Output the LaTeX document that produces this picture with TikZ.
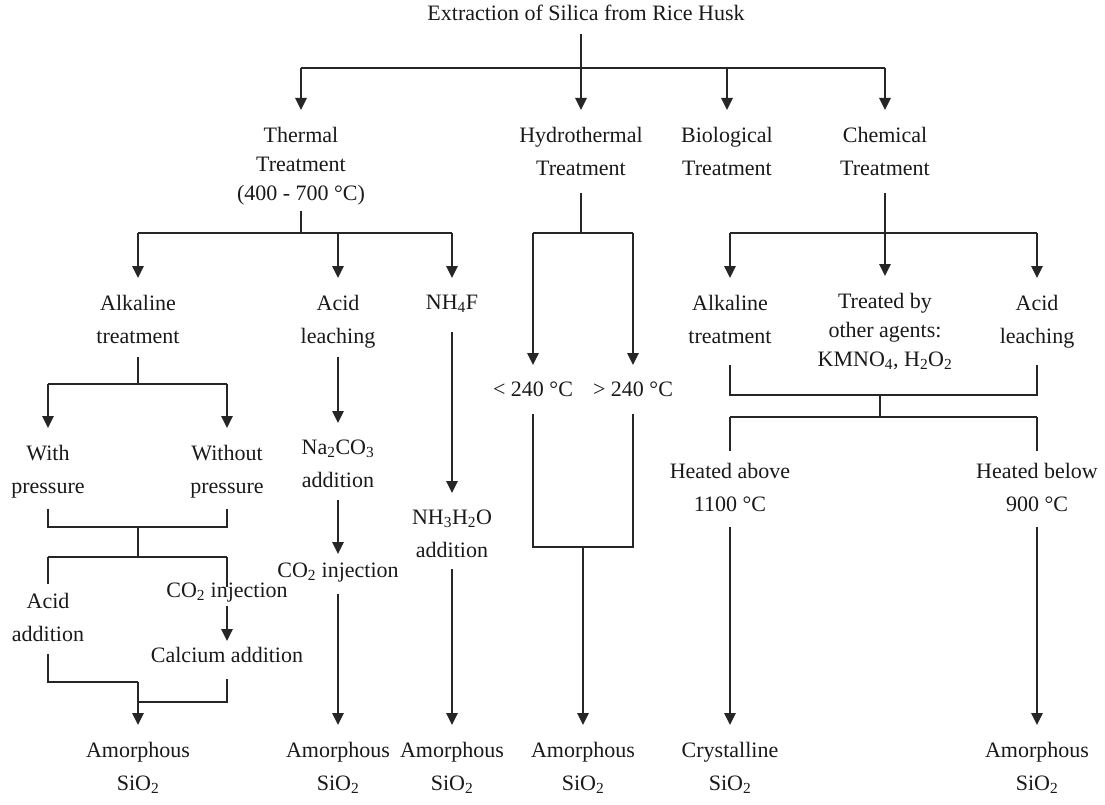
\documentclass[tikz,border=0pt]{standalone}
\usepackage{fontspec}
\setmainfont{Liberation Serif}
\usetikzlibrary{arrows.meta,calc}
\begin{document}
\begin{tikzpicture}[x=1pt,y=-1pt,line width=2.6pt,
  lab/.style={align=center,inner sep=0pt,anchor=north,font=\fontsize{22}{33}\selectfont,text=black!90},
  tight/.style={font=\fontsize{22}{29}\selectfont},
  ln/.style={draw=black!85},
  arr/.style={ln,-{Triangle[length=12pt,width=11pt]},shorten >=16pt},
  gapout/.style={shorten <=#1}, gapout/.default=11pt,
  gapin/.style={shorten >=#1}, gapin/.default=16pt]
\useasboundingbox (0,0) rectangle (1105,805);
% nodes
\node[lab] (title) at (586,4) {Extraction of Silica from Rice Husk};
\node[lab,tight] (thermal) at (301,126) {Thermal\\Treatment\\(400 - 700 °C)};
\node[lab] (hydro) at (581,126) {Hydrothermal\\Treatment};
\node[lab] (bio) at (727,126) {Biological\\Treatment};
\node[lab] (chem) at (885,126) {Chemical\\Treatment};
\node[lab] (alk1) at (138,294) {Alkaline\\treatment};
\node[lab] (acid1) at (338,294) {Acid\\leaching};
\node[lab] (nh4f) at (452,294) {NH\textsubscript{4}F};
\node[lab] (withp) at (48,444) {With\\pressure};
\node[lab] (withoutp) at (227,444) {Without\\pressure};
\node[lab] (na) at (338,439) {Na\textsubscript{2}CO\textsubscript{3}\\addition};
\node[lab] (nh3) at (452,509) {NH\textsubscript{3}H\textsubscript{2}O\\addition};
\node[lab] (acidadd) at (48,592) {Acid\\addition};
\node[lab] (co2a) at (227,582) {CO\textsubscript{2} injection};
\node[lab] (calc) at (227,646) {Calcium addition};
\node[lab] (co2b) at (338,562) {CO\textsubscript{2} injection};
\node[lab] (lt) at (533,381) {< 240 °C};
\node[lab] (gt) at (633,381) {> 240 °C};
\node[lab] (alk2) at (730,294) {Alkaline\\treatment};
\node[lab,tight] (other) at (885,292) {Treated by\\other agents:\\KMNO\textsubscript{4}, H\textsubscript{2}O\textsubscript{2}};
\node[lab] (acid2) at (1037,294) {Acid\\leaching};
\node[lab] (above) at (730,462) {Heated above\\1100 °C};
\node[lab] (below) at (1037,462) {Heated below\\900 °C};
\node[lab] (am1) at (138,741) {Amorphous\\SiO\textsubscript{2}};
\node[lab] (am2) at (338,741) {Amorphous\\SiO\textsubscript{2}};
\node[lab] (am3) at (452,741) {Amorphous\\SiO\textsubscript{2}};
\node[lab] (am4) at (583,741) {Amorphous\\SiO\textsubscript{2}};
\node[lab] (cryst) at (730,741) {Crystalline\\SiO\textsubscript{2}};
\node[lab] (am5) at (1037,741) {Amorphous\\SiO\textsubscript{2}};
% junctions
\coordinate (tb) at (580,68);
\coordinate (thb) at (301,233);
\coordinate (hyb) at (581,233);
\coordinate (chb) at (885,233);
\coordinate (alb) at (138,384);
\coordinate (wm) at (138,527);
\coordinate (ws) at (138,557);
\coordinate (lm) at (138,682);
\coordinate (rm) at (138,702);
\coordinate (hm) at (583,547);
\coordinate (cm1) at (880,395);
\coordinate (cm2) at (880,417);
% top level
\draw[arr,gapout=12pt] (title.south -| hydro.north) -- (hydro.north);
\draw[ln] (thermal.north |- tb) -- (chem.north |- tb);
\foreach \n in {thermal,bio,chem} \draw[arr] (\n.north |- tb) -- (\n.north);
% thermal
\draw[ln,gapout=4pt] (thermal.south) -- (thb);
\draw[ln] (alk1.north |- thb) -- (nh4f.north |- thb);
\foreach \n in {alk1,acid1,nh4f} \draw[arr] (\n.north |- thb) -- (\n.north);
% alkaline branch
\draw[ln,gapout=12pt] (alk1.south) -- (alb);
\draw[ln] (withp.north |- alb) -- (withoutp.north |- alb);
\foreach \n in {withp,withoutp} \draw[arr] (\n.north |- alb) -- (\n.north);
\draw[ln,gapout=9pt,gapin=9pt] (withp.south) -- (withp.south |- wm) -- (withoutp.south |- wm) -- (withoutp.south);
\draw[ln] (wm) -- (ws);
\draw[ln] (acidadd.north |- ws) -- (co2a.north |- ws);
\draw[ln,gapin=8pt] (acidadd.north |- ws) -- (acidadd.north);
\draw[ln,gapin=-5pt] (co2a.north |- ws) -- (co2a.north);
\draw[arr,gapout=2pt,gapin=5pt] (co2a.south) -- (calc.north);
\draw[ln,gapout=11pt] (acidadd.south) -- (acidadd.south |- lm) -- (lm);
\draw[ln,gapout=15pt] (calc.south) -- (calc.south |- rm) -- (rm);
\draw[arr] (lm) -- (am1.north);
% acid leaching branch
\draw[arr,gapout=7pt] (acid1.south) -- (na.north);
\draw[arr,gapout=11pt,gapin=8pt] (na.south) -- (co2b.north);
\draw[arr,gapout=10pt] (co2b.south) -- (am2.north);
% NH4F branch
\draw[arr,gapout=18pt] (nh4f.south) -- (nh3.north);
\draw[arr,gapout=10pt] (nh3.south) -- (am3.north);
% hydrothermal
\draw[ln,gapout=16pt] (hydro.south) -- (hyb);
\draw[ln] (lt.north |- hyb) -- (gt.north |- hyb);
\foreach \n in {lt,gt} \draw[arr] (\n.north |- hyb) -- (\n.north);
\draw[ln,gapout=16pt,gapin=16pt] (lt.south) -- (lt.south |- hm) -- (gt.south |- hm) -- (gt.south);
\draw[arr] (hm) -- (am4.north);
% chemical
\draw[arr,gapout=16pt] (chem.south) -- (other.north);
\draw[ln] (alk2.north |- chb) -- (acid2.north |- chb);
\foreach \n in {alk2,acid2} \draw[arr] (\n.north |- chb) -- (\n.north);
\draw[ln,gapout=20pt,gapin=15pt] (alk2.south) -- (alk2.south |- cm1) -- (acid2.south |- cm1) -- (acid2.south);
\draw[ln] (cm1) -- (cm2);
\draw[ln] (above.north |- cm2) -- (below.north |- cm2);
\draw[ln,gapin=11pt] (above.north |- cm2) -- (above.north);
\draw[ln,gapin=11pt] (below.north |- cm2) -- (below.north);
\draw[arr,gapout=14pt] (above.south) -- (cryst.north);
\draw[arr,gapout=14pt] (below.south) -- (am5.north);
\end{tikzpicture}
\end{document}
